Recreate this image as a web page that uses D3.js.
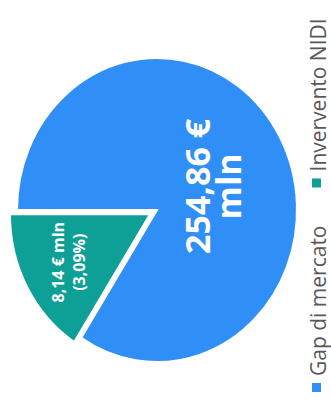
<!DOCTYPE html>
<html>
<head>
<meta charset="utf-8">
<script src="https://cdn.jsdelivr.net/npm/d3@7"></script>
<style>
  html, body { margin: 0; padding: 0; background: #fff; }
  svg { display: block; }
</style>
</head>
<body>
<div id="chart"></div>
<script>
// categories and values
const categories = ["Gap di mercato", "Invervento NIDI"];
const amounts = [254.86, 8.14];
const sliceLabels = [["254,86 €", "mln"], ["8,14 € mln", "(3,09%)"]];
// slice sizes as they are drawn in the picture (share of the circle, %)
const sliceShares = [84.1, 15.9];
const colors = ["#2f8ff7", "#0e9f96"];

const c_width = 331;
const c_height = 408;

const svg = d3.select("#chart")
              .append("svg")
              .attr("width", c_width)
              .attr("height", c_height);

// pie geometry (picture is slightly stretched vertically)
const cx = 157, cy = 210;
const radius = 140;
const sy = 1.086;

const data = categories.map((c, i) => ({
  name: c, amount: amounts[i], share: sliceShares[i], label: sliceLabels[i], color: colors[i]
}));

const pie = d3.pie()
              .sort(null)
              .startAngle(-Math.PI / 2)
              .endAngle(3 * Math.PI / 2)
              .value(d => d.share);

const arcs = pie(data);

const arc = d3.arc().innerRadius(0).outerRadius(radius);

// exploded slice offset
const explode = d => d.index === 1 ? 8 : 0;
const offset = d => {
  const a = (d.startAngle + d.endAngle) / 2;
  return [Math.sin(a) * explode(d), -Math.cos(a) * explode(d)];
};

const pieG = svg.append("g")
                .attr("transform", "translate(" + cx + "," + cy + ") scale(1," + sy + ")");

pieG.selectAll("path")
    .data(arcs)
    .enter()
    .append("path")
    .attr("d", arc)
    .attr("transform", d => "translate(" + offset(d) + ")")
    .attr("fill", d => d.data.color)
    .attr("stroke", "#fff")
    .attr("stroke-width", 2)
    .attr("vector-effect", "non-scaling-stroke");

// labels (rotated like the whole picture)
const labelFrac = [0.42, 0.66];
const labelNudge = [[5, 7], [0, 0]];
const fontSizes = [34, 16];
const lineHeights = [31, 21];

arcs.forEach(d => {
  const i = d.index;
  const la = d3.arc().innerRadius(0).outerRadius(2 * radius * labelFrac[i]);
  const c = la.centroid(d);
  const o = offset(d);
  const x = cx + c[0] + o[0] + labelNudge[i][0];
  const y = cy + (c[1] + o[1]) * sy + labelNudge[i][1];
  const lines = d.data.label;
  const t = svg.append("text")
               .attr("transform", "translate(" + x + "," + y + ") rotate(-90)")
               .attr("text-anchor", "middle")
               .attr("fill", "#fff")
               .attr("font-family", "'Open Sans', sans-serif")
               .attr("font-weight", "bold")
               .attr("font-size", fontSizes[i]);
  lines.forEach((l, j) => {
    t.append("tspan")
     .attr("x", 0)
     .attr("y", (j - (lines.length - 1) / 2) * lineHeights[i])
     .attr("dy", "0.35em")
     .text(l);
  });
});

// legend (rotated, along the right edge)
const legend = svg.append("g")
                  .attr("transform", "translate(312,392) rotate(-90)");

let lx = 0;
data.forEach(d => {
  const item = legend.append("g").attr("transform", "translate(" + lx + ",0)");
  item.append("rect")
      .attr("x", 0)
      .attr("y", 0)
      .attr("width", 9)
      .attr("height", 9)
      .attr("fill", d.color);
  const txt = item.append("text")
                  .attr("x", 16)
                  .attr("y", 14)
                  .attr("fill", "#595959")
                  .attr("font-family", "'Open Sans', sans-serif")
                  .attr("font-size", 21)
                  .text(d.name);
  lx += 16 + txt.node().getComputedTextLength() + 38;
});
</script>
</body>
</html>
